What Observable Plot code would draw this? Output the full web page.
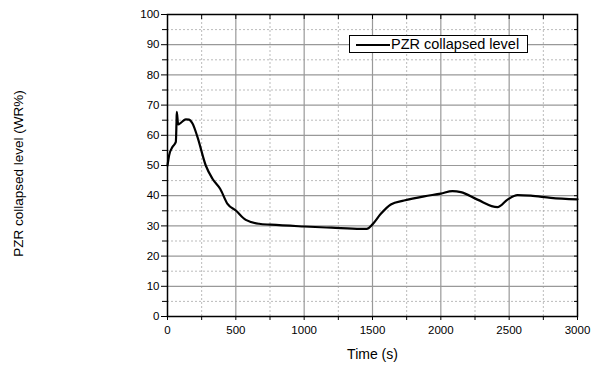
<!DOCTYPE html>
<html>
<head>
<meta charset="utf-8">
<script src="https://cdn.jsdelivr.net/npm/d3@7"></script>
<script src="https://cdn.jsdelivr.net/npm/@observablehq/plot@0.6"></script>
<style>
  body { margin: 0; background: #fff; }
  #wrap { position: relative; width: 592px; height: 366px; font-family: "Liberation Sans", Arial, sans-serif; }
  #legend { position: absolute; left: 349px; top: 35px; width: 177px; height: 16px; border: 1px solid #000; background: #fff; box-sizing: content-box; }
  #legend .sample { position: absolute; left: 6px; top: 8px; width: 34px; border-top: 2px solid #000; }
  #legend .lbl { position: absolute; left: 41px; top: -1px; font-size: 14.5px; line-height: 18px; white-space: nowrap; color: #000; }
</style>
</head>
<body>
<div id="wrap"></div>
<script>
const time  = [0, 12, 36, 61, 66, 68, 78, 97, 134, 158, 183, 219, 280, 329, 385, 439, 500, 573, 670, 756, 1000, 1200, 1414, 1458, 1500, 1561, 1634, 1731, 1878, 2000, 2085, 2146, 2268, 2415, 2488, 2561, 2658, 2805, 3000];
const level = [50, 53.4, 56.1, 57.8, 64.5, 67.8, 63.6, 64.1, 65.3, 65.2, 63.9, 59.5, 50, 45.6, 42.3, 37.3, 35.1, 32, 30.7, 30.4, 29.8, 29.4, 29.0, 29.0, 30.5, 34, 37.1, 38.4, 39.8, 40.7, 41.5, 41.2, 38.7, 36.2, 38.7, 40.2, 40.0, 39.3, 38.8];
const xMajor = [0, 500, 1000, 1500, 2000, 2500, 3000];
const xMinor = [250, 750, 1250, 1750, 2250, 2750];
const yMajor = [0, 10, 20, 30, 40, 50, 60, 70, 80, 90, 100];
const yMinor = [5, 15, 25, 35, 45, 55, 65, 75, 85, 95];
const seriesName = "PZR collapsed level";
const xTitle = "Time (s)";
const yTitle = "PZR collapsed level (WR%)";

const data = time.map((t, i) => ({t, v: level[i]}));
const xAll = [...xMajor, ...xMinor];
const yAll = [...yMajor, ...yMinor];
const plain = d => String(d);

const chart = Plot.plot({
  width: 592,
  height: 366,
  marginLeft: 167,
  marginRight: 15,
  marginTop: 14,
  marginBottom: 50,
  style: {fontFamily: "'Liberation Sans', Arial, sans-serif", fontSize: "11.5px", color: "#000", background: "#fff"},
  x: {domain: [0, 3000]},
  y: {domain: [0, 100]},
  marks: [
    Plot.ruleX(xMinor, {stroke: "#aaa", strokeDasharray: "2,2", strokeWidth: 0.8}),
    Plot.ruleY(yMinor, {stroke: "#aaa", strokeDasharray: "2,2", strokeWidth: 0.8}),
    Plot.ruleX(xMajor.slice(1, -1), {stroke: "#999", strokeWidth: 1.2}),
    Plot.ruleY(yMajor.slice(1, -1), {stroke: "#999", strokeWidth: 1.2}),
    Plot.axisX({anchor: "bottom", ticks: xMajor, tickSize: 4, tickPadding: 5, tickFormat: plain, label: null}),
    Plot.axisX({anchor: "bottom", ticks: xMinor, tickSize: 4, tickFormat: () => "", label: null}),
    Plot.axisX({anchor: "top", ticks: xAll, tickSize: -4, tickFormat: () => "", label: null}),
    Plot.axisY({anchor: "left", ticks: yMajor, tickSize: 6, tickPadding: 2, tickFormat: plain, label: null}),
    Plot.axisY({anchor: "left", ticks: yMinor, tickSize: 5, tickFormat: () => "", label: null}),
    Plot.axisY({anchor: "right", ticks: yAll, tickSize: -4, tickFormat: () => "", label: null}),
    Plot.frame({stroke: "#000", strokeWidth: 1.5}),
    Plot.line(data, {x: "t", y: "v", stroke: "#000", strokeWidth: 2.2, curve: "monotone-x"}),
    Plot.text([xTitle], {frameAnchor: "bottom", dy: 38, fontSize: 14, lineAnchor: "middle", fill: "#000"}),
    Plot.text([yTitle], {frameAnchor: "left", textAnchor: "middle", lineAnchor: "middle", dx: -149, dy: 8, rotate: -90, fontSize: 13.5, fill: "#000"})
  ]
});
const wrap = document.getElementById("wrap");
wrap.appendChild(chart);
const lg = document.createElement("div");
lg.id = "legend";
lg.innerHTML = `<div class="sample"></div><div class="lbl">${seriesName}</div>`;
wrap.appendChild(lg);
</script>
</body>
</html>
